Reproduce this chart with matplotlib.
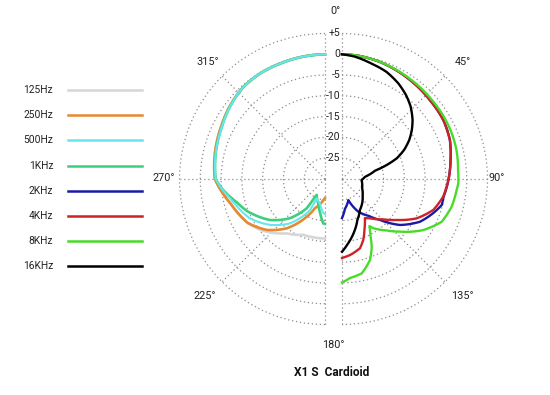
"""Diagramme polaire X1 S (cardioïde) : graves à gauche, aigus à droite.

Deux demi-axes polaires décalés horizontalement, comme sur la fiche d'origine.
Sortie : out.png (550x395)."""
import numpy as np
import matplotlib
matplotlib.use("Agg")
import matplotlib.pyplot as plt
from matplotlib import transforms

plt.rcParams["font.family"] = ["Roboto", "DejaVu Sans"]

W_PX, H_PX, DPI = 550, 395, 100
R_PX = 145.5                 # rayon du cercle +5 dB
CY = 179                     # centre vertical (px depuis le haut)
CX_LEFT, CX_RIGHT = 325, 342  # centres des deux demi-diagrammes
R_MIN, R_MAX = -30, 5

LABELS = ["125Hz", "250Hz", "500Hz", "1KHz", "2KHz", "4KHz", "8KHz", "16KHz"]
COLORS = ["#d6d6d6", "#e8892f", "#66e6ec", "#3dcf7e",
          "#1a1aa6", "#cc2328", "#47dc2a", "#000000"]

# angles en degrés (sens horaire depuis le haut), niveaux en dB
# --- moitié gauche
THETA_125 = [360, 350, 339, 328, 318.5, 307, 297, 287, 276, 270, 262, 255, 248, 240.5,
             232, 227.9, 215.2, 201.2, 190, 181.6, 180]
DB_125 = [0, -0.1, -0.2, -0.2, -0.4, -1.2, -2.0, -2.6, -3.2, -3.5, -5.2, -6.6, -7.6, -8.6,
          -10.2, -11.1, -14.0, -15.6, -15.7, -15.7, -15.7]

THETA_250 = [360, 350, 339, 328, 318.5, 307, 297, 287, 276, 270, 262, 255, 248, 240.5,
             228.8, 217.8, 205.9, 199, 184.6, 180]
DB_250 = [0, -0.1, -0.2, -0.2, -0.4, -1.2, -2.0, -2.6, -3.2, -3.5, -5.2, -6.6, -7.6, -8.6,
          -11.4, -15.0, -19.9, -22.6, -24.9, -25.4]

THETA_500 = [360, 350, 339, 328, 318.5, 307, 297, 287, 276, 270, 264, 259, 254, 247,
             242.3, 230.1, 218.3, 205.8, 203.3, 191.6, 182.8, 180]
DB_500 = [0, -0.1, -0.2, -0.2, -0.4, -1.3, -2.2, -2.8, -3.4, -3.7, -5.2, -6.6, -7.6, -8.8,
          -9.6, -12.8, -16.4, -21.7, -25.0, -24.0, -21.8, -21.6]

THETA_1K = [360, 350, 339, 328, 318.5, 307, 297, 287, 276, 270, 264, 259, 254.6, 247.3,
            243.3, 233.3, 221.7, 212, 209.5, 207.4, 195.4, 188, 182.2, 180]
DB_1K = [0, -0.1, -0.2, -0.2, -0.4, -1.3, -2.2, -2.8, -3.4, -3.7, -5.3, -6.9, -8.2, -9.8,
         -10.9, -13.5, -17.4, -21.7, -25.0, -25.7, -23.9, -21.7, -19.3, -19.2]

# --- moitié droite
THETA_2K = [0, 8, 18, 34.5, 48.1, 59.8, 70.1, 80.1, 90.5, 99.9, 104.6, 110.6, 118.7,
            128.4, 137.2, 143.9, 153.5, 163.3, 174.3, 180]
DB_2K = [0, -0.1, -0.4, -1.1, -1.6, -1.8, -2.4, -3.5, -4.4, -5.2, -5.2, -6.6, -8.6,
         -12.2, -16.6, -19.0, -21.2, -24.7, -22.8, -20.6]

THETA_4K = [0, 8, 18, 34.5, 48.1, 59.8, 70.1, 80.1, 90.5, 99.9, 108.7, 117.8, 126.9,
            134.6, 144.5, 149.7, 155.8, 160.7, 165.4, 174, 180]
DB_4K = [0, -0.1, -0.4, -1.1, -1.6, -1.8, -2.4, -3.5, -4.4, -5.3, -6.8, -9.7, -13.6,
         -16.2, -18.4, -19.1, -16.8, -14.5, -12.8, -11.6, -11.0]

THETA_8K = [0, 8, 18, 34.5, 48, 60, 67, 75.8, 85.6, 92.1, 95.5, 104.2, 113.2, 122.1,
            132.3, 139, 147.6, 149.8, 153.4, 156.3, 160.9, 168.2, 175.4, 180]
DB_8K = [0, -0.1, -0.4, -0.9, -1.2, -1.3, -1.4, -1.6, -2.0, -2.0, -2.3, -2.8, -3.9, -6.9,
         -11.2, -13.6, -16.0, -16.9, -14.7, -12.2, -9.4, -6.8, -6.1, -5.1]

THETA_16K = [0, 6, 13.5, 22.6, 30.5, 37.3, 43.5, 50.2, 55, 59.9, 64.9, 69.3, 72.6, 75.9,
             84.3, 92.9, 114.2, 128, 149.9, 159.3, 165.7, 174.4, 180]
DB_16K = [0, -0.4, -1.25, -2.1, -3.3, -4.6, -6.0, -7.9, -9.5, -11.3, -13.5, -15.9, -18.7,
          -21.8, -24.4, -25.3, -24.7, -23.7, -21.4, -19.5, -17.4, -14.5, -12.5]

RINGS = [-25, -20, -15, -10, -5, 0, 5]
RING_LABELS = ["-25", "-20", "-15", "-10", "-5", "0", "+5"]


def half_polar(fig, cx, side):
    """Demi-axe polaire : la cale est centrée dans une boîte carrée de côté 2R."""
    size = 2 * R_PX
    frac = 0.25 if side == "right" else 0.75
    left = (cx - frac * size) / W_PX
    bottom = 1 - (CY + R_PX) / H_PX
    ax = fig.add_axes([left, bottom, size / W_PX, size / H_PX], projection="polar")
    ax.set_theta_zero_location("N")
    ax.set_theta_direction(-1)
    if side == "right":
        ax.set_thetamin(0); ax.set_thetamax(180)
        ax.set_xticks(np.deg2rad([0, 45, 90, 135, 180]))
    else:
        ax.set_thetamin(180); ax.set_thetamax(360)
        ax.set_xticks(np.deg2rad([180, 225, 270, 315, 360]))
    ax.set_ylim(R_MIN, R_MAX)
    ax.set_yticks(RINGS)
    ax.set_xticklabels([]); ax.set_yticklabels([])
    # clip_on=False : sinon les rayons 0°/180° (bord de la cale) disparaissent
    ax.grid(True, color="#8c8c8c", linestyle=(0, (1, 2.2)), linewidth=0.9,
            clip_on=False)
    # set_visible seul ne suffit pas pour les bords start/end de la cale
    for name in ("polar", "start", "end", "inner"):
        ax.spines[name].set_visible(False)
        ax.spines[name].set_linewidth(0)
        ax.spines[name].set_color("none")
    ax.tick_params(axis="both", length=0, width=0)
    ax.patch.set_alpha(0)
    return ax


def draw_curve(ax, theta_deg, db, color, lw):
    line, = ax.plot(np.deg2rad(theta_deg), db, color=color, lw=lw, clip_on=False,
                    solid_joinstyle="round")
    # tracé en coordonnées polaires (arcs) plutôt qu'en cordes
    line.get_path()._interpolation_steps = 16
    return line


def main() -> None:
    fig = plt.figure(figsize=(W_PX / DPI, H_PX / DPI), dpi=DPI)
    ax_l = half_polar(fig, CX_LEFT, "left")
    ax_r = half_polar(fig, CX_RIGHT, "right")

    left_series = [(THETA_125, DB_125, 0), (THETA_250, DB_250, 1),
                   (THETA_1K, DB_1K, 3), (THETA_500, DB_500, 2)]
    for th, db, i in left_series:
        draw_curve(ax_l, th, db, COLORS[i], 1.5 if i == 2 else 1.9)
    right_series = [(THETA_2K, DB_2K, 4), (THETA_4K, DB_4K, 5),
                    (THETA_8K, DB_8K, 6), (THETA_16K, DB_16K, 7)]
    for th, db, i in right_series:
        draw_curve(ax_r, th, db, COLORS[i], 1.7)

    # graduations radiales entre les deux moitiés
    tr = transforms.offset_copy(ax_r.transData, fig=fig, x=-1.5, y=0, units="dots")
    for v, s in zip(RINGS, RING_LABELS):
        ax_r.text(0, v, s, transform=tr, ha="right", va="center",
                  fontsize=7.5, color="#222222")

    # libellés d'angle
    txt = dict(fontsize=7.8, color="#222222", ha="center", va="center")
    for ang, r in [(46, 10.5), (89.6, 7.3), (134.3, 10.3)]:
        ax_r.text(np.deg2rad(ang), r, f"{round(ang / 45) * 45}°", **txt)
    for ang, r in [(225.7, 10.3), (270.4, 8.9), (314.8, 9.9)]:
        ax_l.text(np.deg2rad(ang), r, f"{round(ang / 45) * 45}°", **txt)
    fig.text(335 / W_PX, 1 - 11 / H_PX, "0°", **txt)
    fig.text(333 / W_PX, 1 - 345 / H_PX, "180°", **txt)

    # légende manuelle : libellé aligné à droite, trait à droite
    ax_leg = fig.add_axes([68 / W_PX, 1 - 266.3 / H_PX, 74 / W_PX, 176.3 / H_PX])
    ax_leg.set_xlim(0, 1)
    ax_leg.set_ylim(len(LABELS) - 1, 0)
    ax_leg.axis("off")
    for i, (lab, col) in enumerate(zip(LABELS, COLORS)):
        ax_leg.plot([0, 1], [i, i], color=col, lw=1.8, clip_on=False)
        ax_leg.text(-0.2, i, lab, ha="right", va="center", fontsize=7.4,
                    color="#222222", clip_on=False)

    fig.text(332 / W_PX, 1 - 373 / H_PX, "X1 S  Cardioid", ha="center", va="center",
             fontsize=8.6, fontweight="bold", color="#111111")

    fig.savefig("out.png", dpi=DPI)
    plt.close(fig)


if __name__ == "__main__":
    main()
